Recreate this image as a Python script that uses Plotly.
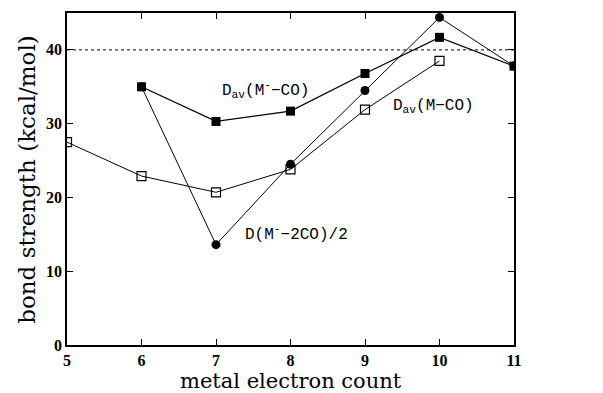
import plotly.graph_objects as go

x_mco = [5, 6, 7, 8, 9, 10]
y_mco = [27.5, 22.9, 20.7, 23.8, 31.9, 38.5]

x_manion = [6, 7, 8, 9, 10, 11]
y_manion = [35.0, 30.3, 31.7, 36.8, 41.7, 37.8]

x_m2co = [6, 7, 8, 9, 10, 11]
y_m2co = [35.0, 13.6, 24.5, 34.5, 44.4, 37.8]

ref_level = 40
x_ticks = [5, 6, 7, 8, 9, 10, 11]
y_ticks = [0, 10, 20, 30, 40]

fig = go.Figure()
fig.add_trace(go.Scatter(x=[5, 11], y=[ref_level, ref_level], mode="lines",
                         line=dict(color="black", width=1, dash="dot"), showlegend=False))
fig.add_trace(go.Scatter(x=x_m2co, y=y_m2co, mode="lines+markers",
                         line=dict(color="black", width=1),
                         marker=dict(symbol="circle", size=9, color="black"), showlegend=False))
fig.add_trace(go.Scatter(x=x_mco, y=y_mco, mode="lines+markers",
                         line=dict(color="black", width=1),
                         marker=dict(symbol="square-open", size=9, color="black", line=dict(width=1.2)),
                         showlegend=False))
fig.add_trace(go.Scatter(x=x_manion, y=y_manion, mode="lines+markers",
                         line=dict(color="black", width=1.3),
                         marker=dict(symbol="square", size=9, color="black"), showlegend=False))

mono = "Liberation Mono, Courier New, monospace"
fig.add_annotation(x=7.67, y=34.6, text="D<sub>av</sub>(M<sup>-</sup>−CO)", showarrow=False,
                   font=dict(family=mono, size=16, color="black"))
fig.add_annotation(x=9.92, y=32.3, text="D<sub>av</sub>(M−CO)", showarrow=False,
                   font=dict(family=mono, size=16, color="black"))
fig.add_annotation(x=8.08, y=15.1, text="D(M<sup>-</sup>−2CO)/2", showarrow=False,
                   font=dict(family=mono, size=16, color="black"))

title_font = "DejaVu Serif, serif"
fig.add_annotation(xref="paper", yref="paper", x=0.5, y=-0.065, yanchor="top",
                   text="metal electron count", showarrow=False,
                   font=dict(family=title_font, size=21, color="black"))
fig.add_annotation(xref="paper", yref="paper", x=-0.09, y=0.5, xanchor="center", yanchor="middle",
                   text="bond strength (kcal/mol)", showarrow=False, textangle=-90,
                   font=dict(family=title_font, size=23, color="black"))

serif = "Liberation Serif, DejaVu Serif, serif"
axis_common = dict(showline=True, linecolor="black", linewidth=1.5, mirror="ticks",
                   ticks="inside", ticklen=6, tickcolor="black", showgrid=False, zeroline=False,
                   automargin=False)
fig.update_xaxes(range=[5, 11], tickvals=x_ticks, ticktext=[f"<b>{v}</b>" for v in x_ticks],
                 **axis_common, tickfont=dict(family=serif, size=16, color="black"))
fig.update_yaxes(range=[0, 45], tickvals=y_ticks, ticktext=[f"<b>{v}</b>" for v in y_ticks],
                 **axis_common, tickfont=dict(family=serif, size=16, color="black"))
fig.update_layout(width=603, height=393, plot_bgcolor="white", paper_bgcolor="white",
                  margin=dict(l=59, r=97, t=5, b=56))
fig.write_html("out.html")
